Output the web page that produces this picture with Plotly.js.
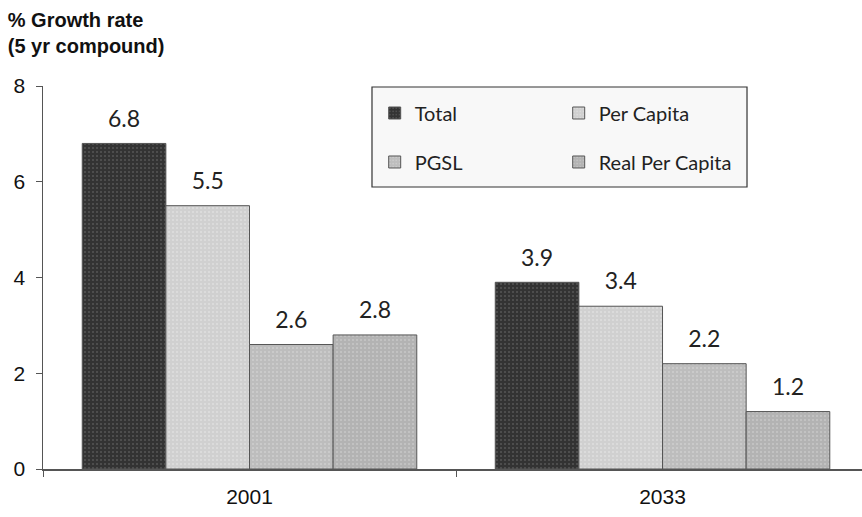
<!DOCTYPE html>
<html>
<head>
<meta charset="utf-8">
<script src="https://cdn.plot.ly/plotly-3.0.1.min.js"></script>
<style>
  html, body { margin: 0; padding: 0; background: #fff; }
  #chart { width: 862px; height: 517px; }
</style>
</head>
<body>
<div id="chart"></div>
<script>
/* 5-year compound growth rates, two periods, four measures */
const years = ['2001', '2033'];
const seriesNames = ['Total', 'Per Capita', 'PGSL', 'Real Per Capita'];
const total = [6.8, 3.9];
const perCapita = [5.5, 3.4];
const pgsl = [2.6, 2.2];
const realPerCapita = [2.8, 1.2];

const seriesValues = [total, perCapita, pgsl, realPerCapita];
const fills = ['#333333', '#d0d0d0', '#bdbdbd', '#b3b3b3'];
const dots = ['#777777', '#ececec', '#e0e0e0', '#dadada'];
// first two entries in the top legend row, last two in the bottom row
const legendIds = ['legend', 'legend', 'legend2', 'legend2'];

const LABEL_FONT = 'Lato, "Liberation Sans", sans-serif';
const AXIS_FONT = '"Liberation Sans", Arial, sans-serif';

const bars = seriesValues.map((vals, i) => ({
  type: 'bar',
  name: seriesNames[i],
  x: years,
  y: vals,
  offsetgroup: 'g' + i,
  marker: {
    color: fills[i],
    line: { color: '#555', width: 1 },
    pattern: { shape: '.', fillmode: 'overlay', fgcolor: dots[i], size: 4, solidity: 0.2 }
  },
  legend: legendIds[i],
  hoverinfo: 'x+y+name'
}));

// value labels: invisible markers sitting on each bar top, text above them
const labels = seriesValues.map((vals, i) => ({
  type: 'scatter',
  mode: 'markers+text',
  x: years,
  y: vals,
  offsetgroup: 'g' + i,
  text: vals.map(v => v.toFixed(1)),
  textposition: 'top center',
  textfont: { family: LABEL_FONT, size: 23, color: '#222' },
  marker: { size: 16, color: 'rgba(0,0,0,0)' },
  cliponaxis: false,
  showlegend: false,
  hoverinfo: 'skip'
}));

// plot box: x 43..862 px, y 86..469 px
const legendCommon = {
  orientation: 'h',
  xanchor: 'left',
  yanchor: 'middle',
  x: 0.405,
  bgcolor: 'rgba(0,0,0,0)',
  borderwidth: 0,
  entrywidth: 139,
  entrywidthmode: 'pixels',
  font: { family: LABEL_FONT, size: 20, color: '#222' },
  traceorder: 'normal'
};

const layout = {
  width: 862,
  height: 517,
  margin: { l: 43, r: 0, t: 86, b: 48 },
  paper_bgcolor: '#fff',
  plot_bgcolor: '#fff',
  barmode: 'group',
  bargap: 0.19,
  bargroupgap: 0,
  scattermode: 'group',
  scattergap: 0.19,
  showlegend: true,
  title: {
    text: '% Growth rate<br>(5 yr compound)',
    font: { family: AXIS_FONT, size: 20, weight: 'bold', color: '#111' },
    xref: 'container', yref: 'container',
    x: 0.009, xanchor: 'left',
    y: 0.948, yanchor: 'top'
  },
  xaxis: {
    type: 'category',
    range: [-0.5, 1.483],
    showline: true,
    linecolor: '#555',
    linewidth: 1.5,
    ticks: 'outside',
    tickson: 'boundaries',
    ticklen: 6,
    tickcolor: '#555',
    ticklabelstandoff: 8,
    showgrid: false,
    tickfont: { family: AXIS_FONT, size: 21, color: '#111' },
    fixedrange: true
  },
  yaxis: {
    range: [0, 8],
    dtick: 2,
    showline: true,
    linecolor: '#555',
    linewidth: 1.5,
    ticks: 'outside',
    ticklen: 6,
    tickcolor: '#555',
    ticklabelstandoff: 6,
    showgrid: false,
    zeroline: false,
    tickfont: { family: AXIS_FONT, size: 21, color: '#111' },
    fixedrange: true
  },
  legend: Object.assign({}, legendCommon, { y: 0.9295 }),
  legend2: Object.assign({}, legendCommon, { y: 0.8016 }),
  shapes: [{
    type: 'rect',
    xref: 'paper', yref: 'paper',
    x0: 0.4017, x1: 0.8596,
    y0: 0.7363, y1: 0.9974,
    line: { color: '#333', width: 1.2 },
    fillcolor: '#f8f8f8',
    layer: 'below'
  }]
};

Plotly.newPlot('chart', bars.concat(labels), layout, { displayModeBar: false, staticPlot: true });
</script>
</body>
</html>
